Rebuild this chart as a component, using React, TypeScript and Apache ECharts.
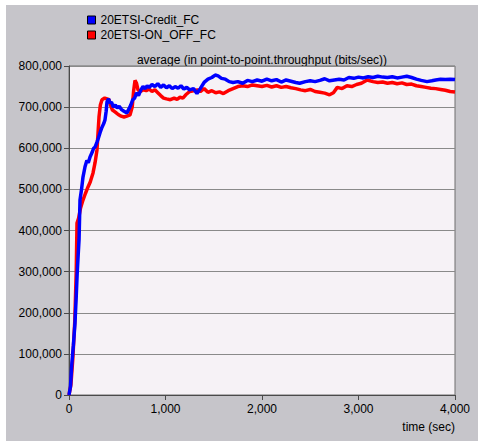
import React, { useEffect, useRef } from "react";
import * as echarts from "echarts";

const seriesNames = ["20ETSI-Credit_FC", "20ETSI-ON_OFF_FC"];
const titleText = "average (in point-to-point.throughput (bits/sec))";
const xAxisTitle = "time (sec)";

// [time (sec), throughput (bits/sec)]
const creditData: [number, number][] = [
  [0, 0], [15, 20000], [30, 78000], [45, 120000], [62, 175000], [75, 240000], [85, 297000], [95, 340000],
  [104, 377000], [114, 474000], [130, 500000], [145, 530000], [166, 555000], [185, 570000], [200, 565000],
  [218, 579000], [240, 590000], [255, 600000], [270, 603000], [290, 615000], [305, 625000], [321, 637000],
  [340, 650000], [360, 660000], [373, 669000], [385, 690000], [394, 713000], [410, 720000], [425, 710000],
  [440, 712000], [460, 700000], [480, 705000], [500, 698000], [520, 702000], [545, 694000], [570, 690000],
  [600, 686000], [620, 695000], [640, 705000], [660, 718000], [680, 722000], [700, 735000], [720, 728000],
  [745, 742000], [767, 750000], [790, 745000], [810, 752000], [830, 748000], [860, 755000], [890, 750000],
  [920, 757000], [950, 748000], [980, 754000], [1010, 747000], [1040, 752000], [1070, 745000], [1100, 750000],
  [1130, 746000], [1160, 752000], [1190, 744000], [1220, 748000], [1250, 742000], [1290, 745000], [1326, 733000],
  [1360, 745000], [1400, 760000], [1440, 768000], [1480, 772000], [1515, 778000], [1545, 776000], [1580, 770000],
  [1620, 768000], [1660, 762000], [1700, 760000], [1750, 762000], [1800, 758000], [1850, 765000], [1900, 762000],
  [1950, 766000], [2000, 763000], [2050, 768000], [2100, 764000], [2150, 767000], [2200, 761000], [2250, 766000],
  [2300, 763000], [2350, 760000], [2390, 758000], [2450, 762000], [2500, 764000], [2550, 762000], [2600, 765000],
  [2650, 769000], [2700, 764000], [2750, 766000], [2800, 768000], [2850, 766000], [2900, 772000], [2950, 770000],
  [3000, 773000], [3050, 771000], [3100, 774000], [3150, 772000], [3200, 775000], [3250, 773000], [3300, 772000],
  [3350, 774000], [3400, 771000], [3450, 773000], [3500, 775000], [3550, 772000], [3600, 768000], [3650, 765000],
  [3710, 762000], [3760, 764000], [3800, 766000], [3850, 768000], [3900, 767000], [3950, 768000], [4000, 767000],
];

const onOffData: [number, number][] = [
  [0, 0], [20, 25000], [40, 90000], [60, 180000], [75, 300000], [83, 418000], [100, 430000], [120, 455000],
  [145, 474000], [170, 490000], [197, 506000], [220, 518000], [249, 540000], [270, 565000], [290, 596000],
  [311, 676000], [325, 705000], [342, 718000], [370, 722000], [394, 720000], [415, 718000], [430, 705000],
  [450, 693000], [480, 688000], [510, 682000], [540, 678000], [570, 676000], [600, 678000], [632, 681000],
  [655, 700000], [670, 740000], [684, 765000], [700, 758000], [715, 742000], [740, 738000], [770, 742000],
  [800, 740000], [830, 744000], [860, 738000], [890, 742000], [920, 735000], [950, 728000], [980, 722000],
  [1010, 720000], [1050, 718000], [1090, 722000], [1120, 719000], [1150, 724000], [1180, 722000], [1210, 730000],
  [1250, 738000], [1290, 740000], [1330, 742000], [1360, 738000], [1400, 745000], [1440, 736000], [1480, 740000],
  [1520, 735000], [1560, 737000], [1600, 733000], [1650, 740000], [1700, 745000], [1750, 750000], [1800, 752000],
  [1850, 750000], [1900, 754000], [1950, 752000], [2000, 750000], [2050, 753000], [2100, 749000], [2150, 752000],
  [2200, 748000], [2250, 750000], [2300, 747000], [2350, 745000], [2400, 742000], [2450, 740000], [2500, 743000],
  [2550, 738000], [2600, 736000], [2650, 734000], [2700, 730000], [2740, 735000], [2780, 748000], [2830, 745000],
  [2880, 752000], [2930, 750000], [2980, 755000], [3030, 758000], [3090, 766000], [3150, 762000], [3200, 760000],
  [3250, 761000], [3300, 758000], [3350, 760000], [3400, 757000], [3450, 759000], [3500, 755000], [3550, 756000],
  [3600, 752000], [3650, 750000], [3700, 748000], [3750, 746000], [3800, 745000], [3850, 743000], [3900, 741000],
  [3950, 738000], [4000, 737000],
];

const FONT = "Arial, 'Liberation Sans', sans-serif";
const fmt = (v: number) => v.toLocaleString("en-US");

export default function App() {
  const ref = useRef<HTMLDivElement>(null);
  useEffect(() => {
    if (!ref.current) return;
    const chart = echarts.init(ref.current, null, { renderer: "svg" });
    chart.setOption({
      animation: false,
      backgroundColor: "#ffffff",
      graphic: [
        {
          type: "rect",
          z: -10,
          silent: true,
          shape: { x: 6, y: 5, width: 472, height: 436 },
          style: { fill: "#c6c5ca" },
        },
        {
          type: "text",
          x: 262,
          y: 60,
          style: {
            text: titleText,
            font: `12px ${FONT}`,
            fill: "#000",
            align: "center",
            verticalAlign: "middle",
          },
        },
        {
          type: "text",
          x: 455,
          y: 427,
          style: {
            text: xAxisTitle,
            font: `12px ${FONT}`,
            fill: "#000",
            align: "right",
            verticalAlign: "middle",
          },
        },
      ],
      legend: {
        orient: "vertical",
        left: 82,
        top: 8,
        itemWidth: 8,
        itemHeight: 8,
        itemGap: 1,
        icon: "rect",
        data: seriesNames,
        textStyle: { fontFamily: FONT, fontSize: 12, color: "#000", lineHeight: 14 },
        itemStyle: { borderColor: "#000", borderWidth: 1 },
      },
      grid: {
        left: 69,
        top: 66,
        right: 23,
        bottom: 46,
        show: true,
        backgroundColor: "#f6f2f6",
        borderColor: "#6e6e6e",
        borderWidth: 1,
      },
      xAxis: {
        type: "value",
        min: 0,
        max: 4000,
        interval: 1000,
        axisLine: { show: true, lineStyle: { color: "#4a4a4a" } },
        axisTick: { show: true, length: 5, inside: false, lineStyle: { color: "#4a4a4a" } },
        splitLine: { show: false },
        axisLabel: { margin: 8, color: "#000", fontFamily: FONT, fontSize: 12, formatter: fmt },
      },
      yAxis: {
        type: "value",
        min: 0,
        max: 800000,
        interval: 100000,
        axisLine: { show: true, lineStyle: { color: "#4a4a4a" } },
        axisTick: { show: true, length: 5, inside: false, lineStyle: { color: "#4a4a4a" } },
        splitLine: { show: true, lineStyle: { color: "#8a8a8a", width: 1 } },
        axisLabel: { margin: 7, color: "#000", fontFamily: FONT, fontSize: 12, formatter: fmt },
      },
      series: [
        {
          name: seriesNames[1],
          type: "line",
          data: onOffData,
          showSymbol: false,
          symbol: "none",
          color: "#ff0000",
          lineStyle: { color: "#ff0000", width: 3.5 },
          itemStyle: { color: "#ff0000" },
        },
        {
          name: seriesNames[0],
          type: "line",
          data: creditData,
          showSymbol: false,
          symbol: "none",
          color: "#0000ff",
          lineStyle: { color: "#0000ff", width: 3.5 },
          itemStyle: { color: "#0000ff" },
        },
      ],
    });
    return () => chart.dispose();
  }, []);
  return (
    <div
      ref={ref}
      style={{ position: "fixed", left: 0, top: 0, width: 478, height: 441 }}
    />
  );
}
